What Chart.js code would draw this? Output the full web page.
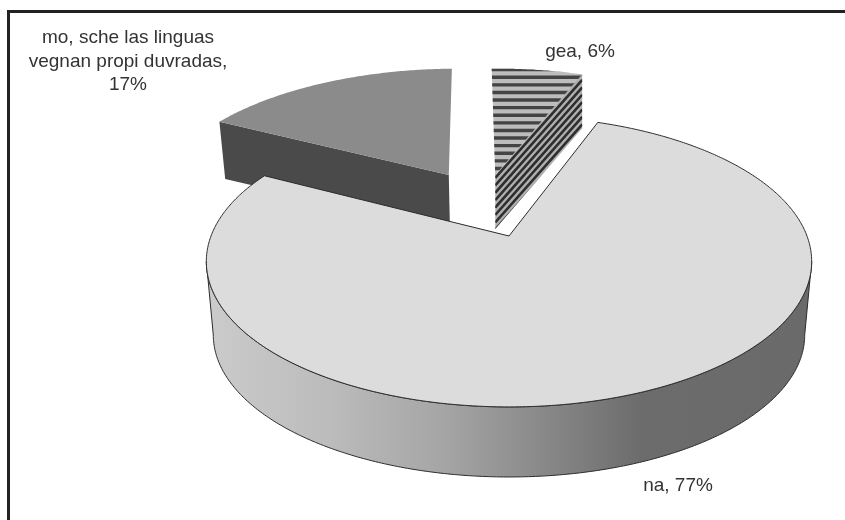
<!DOCTYPE html>
<html>
<head>
<meta charset="utf-8">
<title>Pie</title>
<script src="https://cdn.jsdelivr.net/npm/chart.js@4"></script>
<style>
    html, body { margin: 0; padding: 0; background: #fff; }
    canvas { display: block; }
</style>
</head>
<body>
<canvas id="pie" width="845" height="520"></canvas>
<script>
const categories = ['gea', 'na', 'mo'];
const shares = [6, 77, 17];
const pointLabels = [['gea, 6%'], ['na, 77%'], ['mo, sche las linguas', 'vegnan propi duvradas,', '17%']];

// perspective of the tilted disc
const view = { cx: 509, cy: 236, rx: 298, ry: 141, tilt: 0.175 };
// per slice look, same order as categories. cuts = which cut faces can be seen
const looks = [
    { shift: [-0.05, -0.468], reach: 1.03, drop: 54, shrink: 1, top: 'stripesH', wall: 'stripesD', cuts: ['endAngle'] },
    { shift: [0, 0], reach: 1, drop: 74, shrink: 0.977, top: '#dcdcdc', wall: 'shade', outline: '#2b2b2b', cuts: [] },
    { shift: [-0.2186, -0.468], reach: 1.03, drop: 55, shrink: 0.98, top: '#8b8b8b', wall: '#4a4a4a', cuts: ['startAngle'] },
];
const labelSpots = [[580, 52], [678, 486], [128, 38]];

function project(x, y, look, lower) {
    const px = x * look.reach + look.shift[0];
    const py = y * look.reach + look.shift[1];
    const w = 1 - view.tilt * py;
    const s = lower ? look.shrink : 1;
    return [
        view.cx + s * view.rx * px / w,
        view.cy + s * view.ry * py / w + (lower ? look.drop : 0),
    ];
}

function rim(from, to, look, lower) {
    const pts = [];
    const n = Math.max(2, Math.ceil(Math.abs(to - from) / 0.01));
    for (let i = 0; i <= n; i++) {
        const a = from + (to - from) * i / n;
        pts.push(project(Math.cos(a), Math.sin(a), look, lower));
    }
    return pts;
}

function trace(ctx, pts) {
    ctx.beginPath();
    pts.forEach(function (p, i) {
        if (i === 0) ctx.moveTo(p[0], p[1]);
        else ctx.lineTo(p[0], p[1]);
    });
    ctx.closePath();
}

function bounds(pts) {
    const xs = pts.map(p => p[0]);
    const ys = pts.map(p => p[1]);
    return { x0: Math.min(...xs), x1: Math.max(...xs), y0: Math.min(...ys), y1: Math.max(...ys) };
}

function paint(ctx, pts, style) {
    const box = bounds(pts);
    trace(ctx, pts);
    if (style === 'stripesH') {
        ctx.save();
        ctx.clip();
        ctx.fillStyle = '#bdbdbd';
        ctx.fillRect(box.x0 - 1, box.y0 - 1, box.x1 - box.x0 + 2, box.y1 - box.y0 + 2);
        ctx.strokeStyle = '#444';
        ctx.lineWidth = 3.4;
        for (let y = box.y0 + 1; y < box.y1 + 2; y += 7.6) {
            ctx.beginPath();
            ctx.moveTo(box.x0 - 1, y);
            ctx.lineTo(box.x1 + 1, y);
            ctx.stroke();
        }
        ctx.restore();
    } else if (style === 'stripesD') {
        ctx.save();
        ctx.clip();
        ctx.fillStyle = '#b0b0b0';
        ctx.fillRect(box.x0 - 1, box.y0 - 1, box.x1 - box.x0 + 2, box.y1 - box.y0 + 2);
        ctx.strokeStyle = '#2e2e2e';
        ctx.lineWidth = 2.6;
        const slope = 98 / 87;
        const width = box.x1 - box.x0;
        for (let y = box.y0; y < box.y1 + width * slope; y += 7.4) {
            ctx.beginPath();
            ctx.moveTo(box.x0, y);
            ctx.lineTo(box.x1, y - width * slope);
            ctx.stroke();
        }
        ctx.restore();
    } else if (style === 'shade') {
        const grad = ctx.createLinearGradient(box.x0, 0, box.x1, 0);
        grad.addColorStop(0, '#cbcbcb');
        grad.addColorStop(0.2, '#bcbcbc');
        grad.addColorStop(0.4, '#a4a4a4');
        grad.addColorStop(0.55, '#8a8a8a');
        grad.addColorStop(0.72, '#6c6c6c');
        grad.addColorStop(1, '#6a6a6a');
        ctx.fillStyle = grad;
        ctx.fill();
    } else {
        ctx.fillStyle = style;
        ctx.fill();
    }
}

function drawSlice(ctx, arc, look) {
    const start = arc.startAngle;
    const end = arc.endAngle;
    const hub = project(0, 0, look, false);
    const hubLow = project(0, 0, look, true);

    look.cuts.forEach(function (name) {
        const a = arc[name];
        const outer = project(Math.cos(a), Math.sin(a), look, false);
        const outerLow = project(Math.cos(a), Math.sin(a), look, true);
        paint(ctx, [hub, outer, outerLow, hubLow], look.wall);
    });

    // outer face, only the part turned to the viewer
    const edge = Math.asin(view.tilt);
    const from = Math.max(start, edge);
    const to = Math.min(end, Math.PI - edge);
    if (to > from) {
        const wall = rim(from, to, look, false).concat(rim(from, to, look, true).reverse());
        paint(ctx, wall, look.wall);
        if (look.outline) {
            ctx.strokeStyle = look.outline;
            ctx.lineWidth = 1;
            ctx.stroke();
        }
    }

    const face = [hub].concat(rim(start, end, look, false));
    paint(ctx, face, look.top);
    if (look.outline) {
        trace(ctx, face);
        ctx.strokeStyle = look.outline;
        ctx.lineWidth = 1;
        ctx.stroke();
    }
}

const tiltedPie = {
    id: 'tiltedPie',
    beforeDatasetsDraw(chart) {
        const ctx = chart.ctx;
        const arcs = chart.getDatasetMeta(0).data;
        ctx.save();
        // back slices first, the big one covers them
        [2, 0, 1].forEach(i => drawSlice(ctx, arcs[i], looks[i]));
        ctx.restore();
        return false;
    },
    afterDraw(chart) {
        const ctx = chart.ctx;
        ctx.save();
        ctx.fillStyle = '#222';
        ctx.fillRect(7, 10, 838, 3);
        ctx.fillRect(7, 10, 3, 510);
        ctx.fillStyle = '#333';
        ctx.font = '19px "Liberation Sans", Arial, sans-serif';
        ctx.textAlign = 'center';
        ctx.textBaseline = 'middle';
        pointLabels.forEach(function (lines, i) {
            lines.forEach(function (line, j) {
                ctx.fillText(line, labelSpots[i][0], labelSpots[i][1] + j * 23.5);
            });
        });
        ctx.restore();
    },
};

new Chart(document.getElementById('pie'), {
    type: 'pie',
    data: {
        labels: categories,
        datasets: [{ data: shares, borderWidth: 0 }],
    },
    options: {
        responsive: false,
        animation: false,
        rotation: -1.3,
        plugins: {
            legend: { display: false },
            tooltip: { enabled: false },
        },
    },
    plugins: [tiltedPie],
});
</script>
</body>
</html>
